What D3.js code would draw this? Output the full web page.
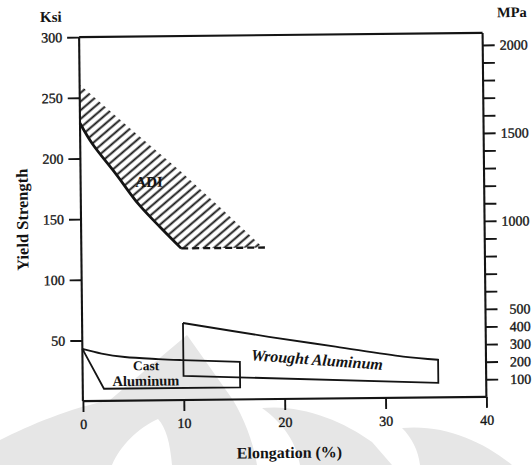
<!DOCTYPE html>
<html>
<head>
<meta charset="utf-8">
<script src="https://cdn.jsdelivr.net/npm/d3@7"></script>
<style>
  html, body { margin: 0; padding: 0; background: #fff; }
  svg { display: block; }
  text { font-family: "Liberation Serif", "Times New Roman", serif; fill: #141414; }
</style>
</head>
<body>
<svg id="chart" width="532" height="465"></svg>
<script>
// Elongation axis (%)
const xTicks = [0, 10, 20, 30, 40];
// Yield strength, left axis (ksi)
const ksiTicks = [50, 100, 150, 200, 250, 300];
// Yield strength, right axis (MPa): minor ticks every 100, labels on some
const mpaTicks = d3.range(100, 2001, 100);
const mpaLabels = [100, 200, 300, 400, 500, 1000, 1500, 2000];
const KSI_PER_MPA = 1 / 6.8948;

// ADI band: lower solid boundary, upper hatch limit, dashed floor (elongation %, ksi)
const adiLower = [[0, 229], [1.2, 212], [3.5, 187], [5.7, 162], [7.8, 143], [9.9, 125]];
const adiUpper = [[0, 261], [5, 224], [10, 188], [14, 157], [18, 125]];
const adiFloor = [[9.9, 125], [18.2, 125]];

// Cast aluminum outline
const castTop = [[0, 43], [1.9, 39], [4.2, 36], [7.5, 34], [9.8, 33], [15.6, 31]];
const castRest = [[15.6, 10], [2.1, 10], [0, 43]];

// Wrought aluminum outline
const wroughtTop = [[10, 63.5], [18.5, 51.4], [25.1, 42.7], [31.8, 33.9], [35.25, 31]];
const wroughtRest = [[35.25, 12], [10, 20], [10, 63.5]];

const svg = d3.select("#chart");
const ink = "#141414";

const x = d3.scaleLinear().domain([0, 40]).range([81, 484.5]);
const y = d3.scaleLinear().domain([0, 300]).range([399, 35]);
const yM = d3.scaleLinear().domain([0, 300 / KSI_PER_MPA]).range([399, 35]);

// faint emblem printed behind the figure
const mark = svg.append("g").attr("fill", "#e6e6e6").attr("stroke", "none");
mark.append("path").attr("d",
  "M0,440 C30,425 70,408 110,400 L187,335 L233,400 C245,420 254,445 257,465 L172,465 " +
  "C170,442 166,428 158,419 C138,428 120,446 112,465 L0,465 Z");
mark.append("path").attr("d",
  "M262,408 C300,404 342,420 372,442 L392,465 L300,465 C296,442 284,424 262,408 Z");
mark.append("path").attr("d",
  "M402,428 C442,424 482,440 512,465 L420,465 C418,450 412,438 402,428 Z");

// the whole figure sits with a slight tilt
const g = svg.append("g").attr("transform", "rotate(-0.6 283 217)");

// hatch pattern for the ADI band
const defs = svg.append("defs");
defs.append("pattern")
  .attr("id", "hatch")
  .attr("patternUnits", "userSpaceOnUse")
  .attr("width", 20).attr("height", 6.6)
  .attr("patternTransform", "rotate(-40)")
  .append("line")
  .attr("x1", 0).attr("x2", 20).attr("y1", 3.3).attr("y2", 3.3)
  .attr("stroke", ink).attr("stroke-width", 1.9);

const line = d3.line().x(d => x(d[0])).y(d => y(d[1]));
const smooth = d3.line().x(d => x(d[0])).y(d => y(d[1])).curve(d3.curveCatmullRom.alpha(0.5));

// ADI region filled with hatching
const adiArea = adiUpper.concat(adiFloor.slice().reverse(), adiLower.slice().reverse());
g.append("path")
  .attr("d", line(adiArea) + "Z")
  .attr("fill", "url(#hatch)").attr("stroke", "none");
g.append("path").attr("d", smooth(adiLower))
  .attr("fill", "none").attr("stroke", ink).attr("stroke-width", 2.7);
g.append("path").attr("d", line(adiFloor))
  .attr("fill", "none").attr("stroke", ink).attr("stroke-width", 2.3)
  .attr("stroke-dasharray", "7,4");

// aluminum outlines
g.append("path").attr("d", smooth(castTop) + line(castRest).replace("M", "L"))
  .attr("fill", "none").attr("stroke", ink).attr("stroke-width", 1.8);
g.append("path").attr("d", smooth(wroughtTop) + line(wroughtRest).replace("M", "L"))
  .attr("fill", "none").attr("stroke", ink).attr("stroke-width", 1.8);

// axes
const styleAxis = sel => {
  sel.select(".domain").remove();
  sel.selectAll(".tick line").attr("stroke", ink).attr("stroke-width", 1.9);
  sel.selectAll(".tick text").attr("font-size", 14).attr("fill", ink)
    .attr("stroke", ink).attr("stroke-width", 0.35)
    .attr("font-family", "'Liberation Serif', serif");
};

g.append("g").attr("transform", `translate(0,${y(0)})`)
  .call(d3.axisBottom(x).tickValues(xTicks).tickSize(11).tickPadding(7).tickFormat(d3.format("d")))
  .call(styleAxis);

g.append("g").attr("transform", `translate(${x(0)},0)`)
  .call(d3.axisLeft(y).tickValues(ksiTicks).tickSize(12).tickPadding(5).tickFormat(d3.format("d")))
  .call(styleAxis);

g.append("g").attr("transform", `translate(${x(40)},0)`)
  .call(d3.axisRight(yM).tickValues(mpaTicks).tickSize(12).tickPadding(4)
    .tickFormat(d => mpaLabels.includes(d) ? d : ""))
  .call(styleAxis)
  .call(s => s.selectAll(".tick text").attr("text-anchor", "end").attr("x", 529.5 - x(40)));

// frame lines
const frame = [
  [[0, 300], [0, 0]], [[40, 300], [40, 0]], [[0, 300], [40, 300]], [[0, 0], [40, 0]]
];
frame.forEach(seg => g.append("path").attr("d", line(seg))
  .attr("stroke", ink).attr("stroke-width", 2.1).attr("fill", "none"));

// axis titles
g.append("text").text("Ksi").attr("x", 53).attr("y", 19.5)
  .attr("text-anchor", "middle").attr("font-weight", "bold").attr("font-size", 15);
g.append("text").text("MPa").attr("x", 514).attr("y", 19.5)
  .attr("text-anchor", "middle").attr("font-weight", "bold").attr("font-size", 14.5);
g.append("text").text("Yield Strength")
  .attr("transform", "translate(28,217) rotate(-90)")
  .attr("text-anchor", "middle").attr("font-weight", "bold").attr("font-size", 16.5);
g.append("text").text("Elongation (%)").attr("x", 287).attr("y", 458)
  .attr("text-anchor", "middle").attr("font-weight", "bold").attr("font-size", 16);

// region labels
g.append("text").text("ADI").attr("x", x(6.78)).attr("y", y(176))
  .attr("text-anchor", "middle").attr("font-weight", "bold").attr("font-size", 15);
g.append("text").text("Cast").attr("x", x(6.29)).attr("y", y(24.9))
  .attr("text-anchor", "middle").attr("font-weight", "bold").attr("font-size", 13.5);
g.append("text").text("Aluminum").attr("x", x(6.27)).attr("y", y(12.1))
  .attr("text-anchor", "middle").attr("font-weight", "bold").attr("font-size", 14.5);
g.append("text").text("Wrought Aluminum")
  .attr("transform", `translate(${x(23.2)},${y(27.7)}) rotate(4.8)`)
  .attr("text-anchor", "middle").attr("font-weight", "bold").attr("font-style", "italic")
  .attr("font-size", 16);
</script>
</body>
</html>
